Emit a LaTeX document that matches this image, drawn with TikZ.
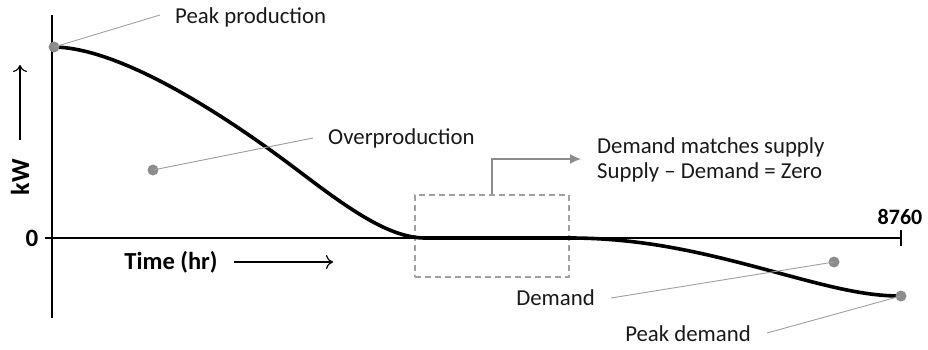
\documentclass[tikz,border=0pt]{standalone}
\usepackage{fontspec}
\setmainfont{Carlito}
\usetikzlibrary{arrows.meta}
\definecolor{dotgray}{HTML}{8C8C8C}
\definecolor{leadgray}{HTML}{A0A0A0}
\tikzset{
  dot/.style={circle,fill=dotgray,inner sep=0pt,minimum size=11pt},
  leader/.style={draw=leadgray,line width=0.9pt},
  lbl/.style={font=\fontsize{22.8}{25}\selectfont,inner sep=0pt,text=black!90},
  blbl/.style={font=\fontsize{22}{26}\selectfont\bfseries,inner sep=0pt},
  axis/.style={line width=1.3pt},
  curve/.style={line width=3.6pt,line cap=round},
  dirarrow/.style={line width=1.2pt,-{To[length=7pt,width=14pt]}},
}
\begin{document}
\begin{tikzpicture}[x=1pt,y=-1pt]
\useasboundingbox (0,0) rectangle (928,349);
% axes
\coordinate (ytop) at (52,15);
\coordinate (ybot) at (52,318);
\coordinate (xl) at (45,238);
\coordinate (xr) at (901,238);
\coordinate (tt) at (901,230);
\coordinate (tb) at (901,246);
\draw[axis] (ytop) -- (ybot);
\draw[axis] (xl) -- (xr);
\draw[axis] (tt) -- (tb);
\node[blbl,font=\fontsize{25}{28}\selectfont\bfseries] (zero) at (32,238) {0};
\node[blbl,anchor=south] (n8760) at (900,225) {8760};
% kW label
\node[blbl,font=\fontsize{26}{28}\selectfont\bfseries,rotate=90] (kw) at (20,177) {kW};
\coordinate (kwa1) at (20,140);
\coordinate (kwa2) at (20,65);
\draw[dirarrow] (kwa1) -- (kwa2);
% time label
\node[blbl,font=\fontsize{24.5}{28}\selectfont\bfseries] (time) at (171,262) {Time (hr)};
\coordinate (ta1) at (234,262);
\coordinate (ta2) at (333,262);
\draw[dirarrow] (ta1) -- (ta2);
% dashed box
\node[draw=leadgray,dashed,line width=1.3pt,dash pattern=on 6pt off 4pt,minimum width=154pt,minimum height=82pt,inner sep=0pt] (box) at (492,236) {};
% text demand matches
\node[lbl,anchor=west,align=left] (match) at (597,160) {Demand matches supply\\Supply – Demand = Zero};
\coordinate (bend) at (492,159);
\coordinate (atip) at (581,159);
\draw[draw=dotgray,line width=1.3pt,-{Latex[length=11pt,width=10pt]}] (box.north) -- (bend) -- (atip);
% curve
\coordinate (c0) at (54,47);
\coordinate (c1) at (300,172);
\coordinate (c2) at (425,238);
\coordinate (c3) at (570,238);
\coordinate (c4) at (760,268);
\coordinate (c5) at (900,296);
\draw[curve] (c0) .. controls (130,48) and (250,134) .. (c1)
  .. controls (350,210) and (390,238) .. (c2) -- (c3)
  .. controls (640,238) and (700,252) .. (c4)
  .. controls (820,284) and (860,296) .. (c5);
% dots & leaders
\node[dot] (dpk) at (54,47) {};
\node[dot] (dov) at (153,170) {};
\node[dot] (ddm) at (834,262) {};
\node[dot] (dpd) at (901,296) {};
\node[lbl,anchor=west] (tpk) at (175,17) {Peak production};
\node[lbl,anchor=west] (tov) at (328,138) {Overproduction};
\node[lbl,anchor=east] (tdm) at (595,298) {Demand};
\node[lbl,anchor=east] (tpd) at (751,334) {Peak demand};
\coordinate (lpk) at (160,15);
\coordinate (lov) at (313,138);
\coordinate (ldm) at (611,298);
\coordinate (lpd) at (767,333);
\draw[leader] (dpk.center) -- (lpk);
\draw[leader] (dov.center) -- (lov);
\draw[leader] (ddm.center) -- (ldm);
\draw[leader] (dpd.center) -- (lpd);
\end{tikzpicture}
\end{document}
